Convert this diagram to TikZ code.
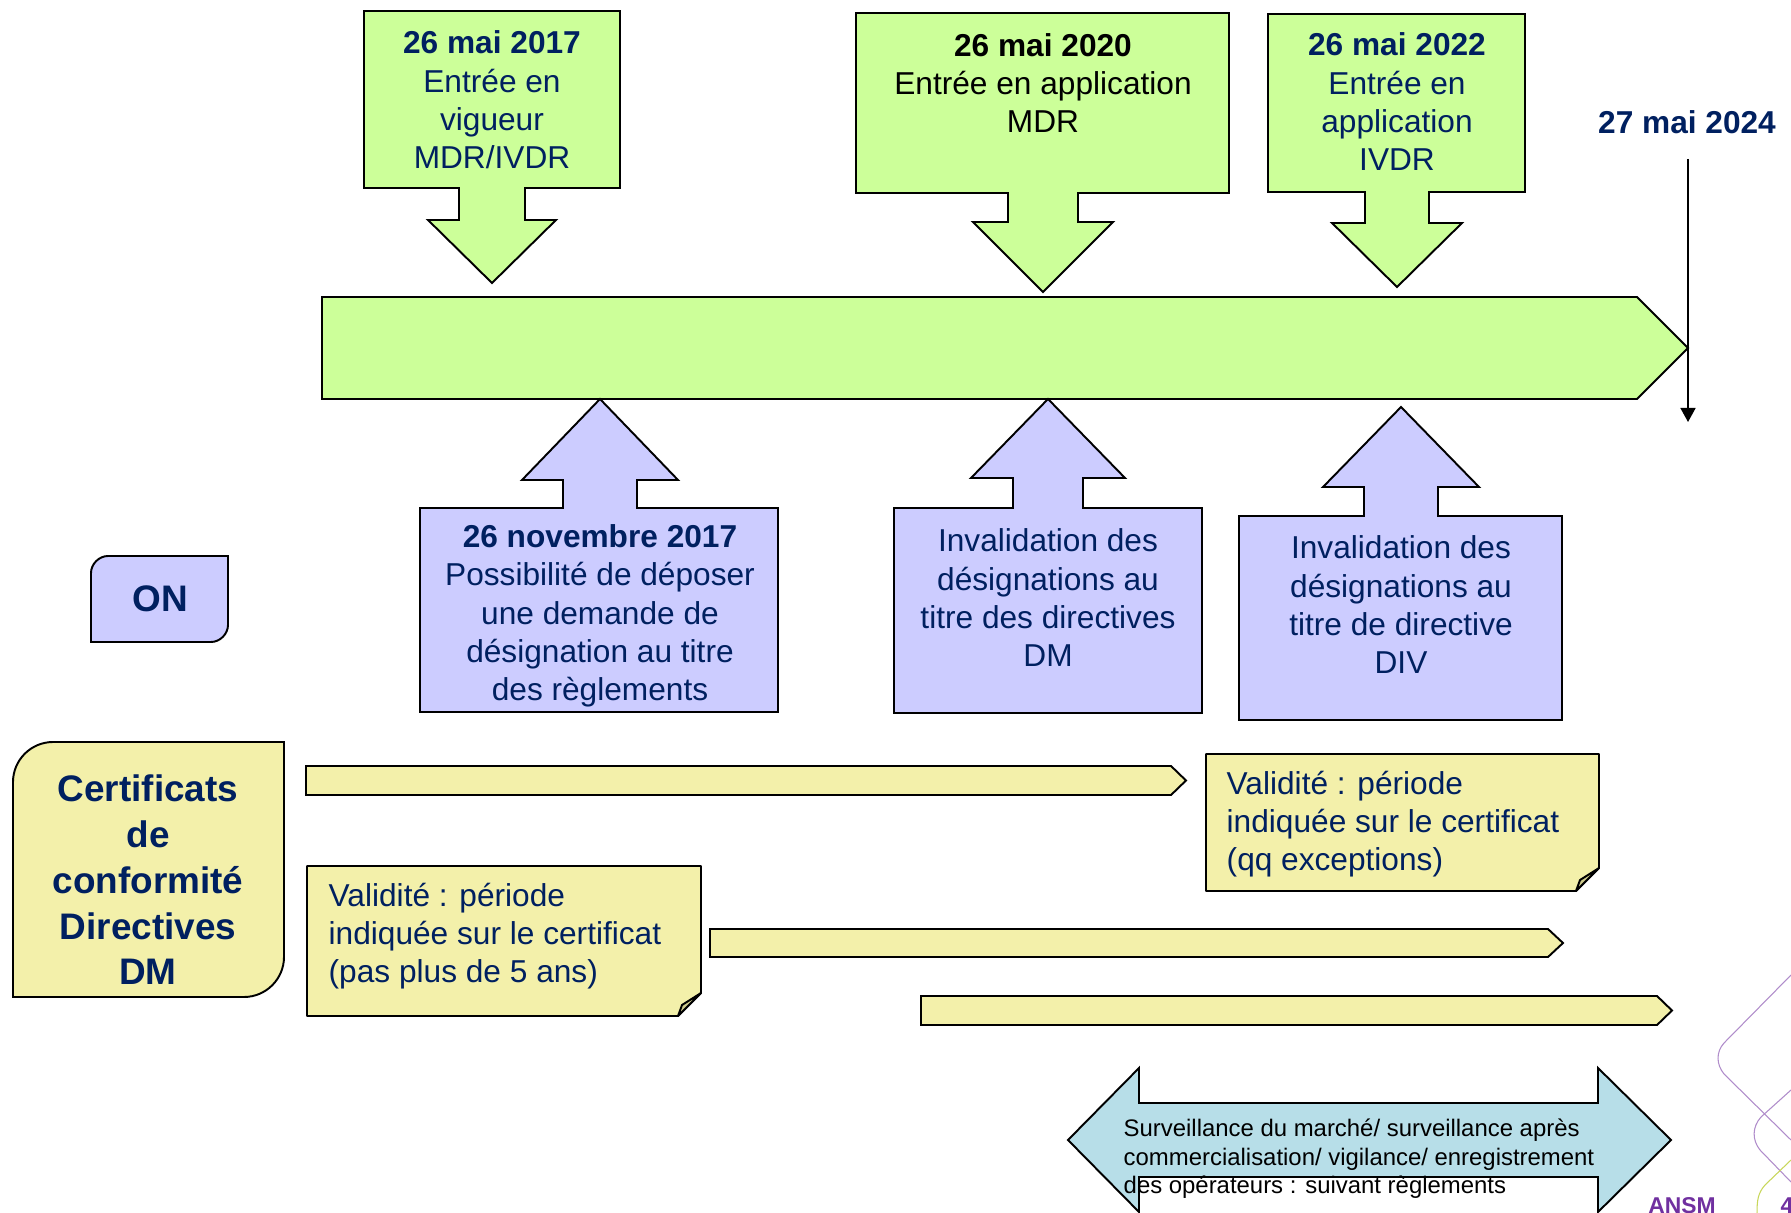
\documentclass[tikz,border=0pt]{standalone}
\usepackage{fontspec}
\setmainfont{Liberation Sans}
\usetikzlibrary{arrows.meta}
\definecolor{navytext}{RGB}{0,32,96}
\definecolor{greenfill}{RGB}{204,255,153}
\definecolor{lilacfill}{RGB}{204,204,255}
\definecolor{paperfill}{RGB}{243,240,170}
\definecolor{foldfill}{RGB}{205,202,140}
\definecolor{aquafill}{RGB}{183,222,232}
\definecolor{ansmpurple}{RGB}{112,48,160}
\definecolor{decogreen}{RGB}{200,215,90}

\begin{document}
\begin{tikzpicture}[x=0.01cm, y=-0.01cm, line join=miter,
  every node/.style={text=navytext, align=center, inner sep=0pt},
  txt/.style={font=\fontsize{9}{10.9}\selectfont},
  datetxt/.style={font=\fontsize{9}{10.9}\selectfont\bfseries},
  bigtxt/.style={font=\fontsize{10.5}{13}\selectfont\bfseries},
  smalltxt/.style={font=\fontsize{6.8}{8.1}\selectfont},
  outline/.style={draw=black, line width=0.55pt},
  deco/.style={line width=0.3pt}]
\useasboundingbox[fill=white] (0,0) rectangle (1791,1213);

\draw[outline, fill=greenfill] (322,297) -- (1637,297) -- (1688,348) -- (1637,399) -- (322,399) -- cycle;

\foreach \xl/\xr/\yt/\yb/\xc/\sw/\hw/\yh/\yp in {364/620/11/188/492/33/64/220/283, 856/1229/13/193/1043/35/70/222/292, 1268/1525/14/192/1397/32/65/223/287}
  \draw[outline, fill=greenfill] (\xl,\yt) -- (\xr,\yt) -- (\xr,\yb) -- (\xc+\sw,\yb) -- (\xc+\sw,\yh) -- (\xc+\hw,\yh) -- (\xc,\yp) -- (\xc-\hw,\yh) -- (\xc-\sw,\yh) -- (\xc-\sw,\yb) -- (\xl,\yb) -- cycle;
\foreach \xl/\xr/\yt/\yb/\xc/\sw/\hw/\yh/\yp in {420/778/712/508/600/37/78/480/399, 894/1202/713/508/1048/35/77/478/399, 1239/1562/720/516/1401/37/78/487/407}
  \draw[outline, fill=lilacfill] (\xl,\yt) -- (\xr,\yt) -- (\xr,\yb) -- (\xc+\sw,\yb) -- (\xc+\sw,\yh) -- (\xc+\hw,\yh) -- (\xc,\yp) -- (\xc-\hw,\yh) -- (\xc-\sw,\yh) -- (\xc-\sw,\yb) -- (\xl,\yb) -- cycle;

\node[txt] (d2017) at (492,100) {\textbf{26 mai 2017}\\Entrée en\\vigueur\\MDR/IVDR};
\node[txt, text=black] (d2020) at (1043,83) {\textbf{26 mai 2020}\\Entrée en application\\MDR};
\node[txt] (d2022) at (1397,102) {\textbf{26 mai 2022}\\Entrée en\\application\\IVDR};
\node[datetxt] (d2024) at (1687,122) {27 mai 2024};
\coordinate (endtop) at (1688,159);
\coordinate (endbot) at (1688,422);
\draw[-{Triangle[width=0.15cm,length=0.14cm]}, line width=0.45pt] (endtop) -- (endbot);

\node[txt] (nov2017) at (600,616) {\textbf{26 novembre 2017}\\Possibilité de déposer\\une demande de\\désignation au titre\\des règlements};
\node[txt] (invdm) at (1048,598) {Invalidation des\\désignations au\\titre des directives\\DM};
\node[txt] (invdiv) at (1401,605) {Invalidation des\\désignations au\\titre de directive\\DIV};

\draw[outline, fill=lilacfill] (91,642) -- (91,573) .. controls (91,564) and (99,556) .. (108,556) -- (228,556) -- (228,625) .. controls (228,634) and (220,642) .. (211,642) -- cycle;
\node[bigtxt] (on) at (160,599) {ON};

\draw[outline, fill=paperfill] (13,997) -- (13,782) .. controls (13,760) and (31,742) .. (53,742) -- (284,742) -- (284,957) .. controls (284,979) and (266,997) .. (244,997) -- cycle;
\node[bigtxt] (certif) at (148,880) {Certificats\\de\\conformité\\Directives\\DM};

\foreach \xl/\xr/\yt/\yb in {306/1186/766/795, 710/1563/929/957, 921/1672/996/1025}
  \draw[outline, fill=paperfill] (\xl,\yt) -- (\xr-15,\yt) -- (\xr,{(\yt+\yb)/2}) -- (\xr-15,\yb) -- (\xl,\yb) -- cycle;

\foreach \xl/\xr/\yt/\yb in {1206/1599/754/891, 307/701/866/1016} {
  \draw[outline, line join=bevel, fill=paperfill] (\xl,\yt) -- (\xr,\yt) -- (\xr,\yb-23) -- (\xr-23,\yb) -- (\xl,\yb) -- cycle;
  \draw[outline, line join=round, fill=foldfill] (\xr,\yb-23) -- (\xr-19,\yb-11) -- (\xr-23,\yb) -- cycle;
}
\node[txt, anchor=west, align=left] (valid1) at (1226,824) {Validité : période\\indiquée sur le certificat\\(qq exceptions)};
\node[txt, anchor=west, align=left] (valid2) at (328,936) {Validité : période\\indiquée sur le certificat\\(pas plus de 5 ans)};

\draw[outline, fill=aquafill] (1068,1140) -- (1139,1068) -- (1139,1103) -- (1598,1103) -- (1598,1068) -- (1671,1140) -- (1598,1212) -- (1598,1177) -- (1139,1177) -- (1139,1212) -- cycle;
\node[smalltxt, text=black, anchor=west, align=left] (surv) at (1123,1159) {Surveillance du marché/ surveillance après\\commercialisation/ vigilance/ enregistrement\\des opérateurs : suivant règlements};

\draw[deco, ansmpurple!55] (1791,975) -- (1724,1043) .. controls (1716,1052) and (1716,1064) .. (1724,1074) -- (1791,1140);
\draw[deco, ansmpurple!55] (1791,1090) -- (1761,1117) .. controls (1752,1127) and (1752,1140) .. (1760,1150) -- (1791,1182);
\draw[deco, decogreen] (1791,1160) -- (1765,1185) .. controls (1758,1193) and (1757,1200) .. (1757,1213);
\node[font=\fontsize{6.5}{8}\selectfont\bfseries, text=ansmpurple, anchor=base] (ansm) at (1682,1213) {ANSM};
\node[font=\fontsize{6.5}{8}\selectfont\bfseries, text=ansmpurple, anchor=base west] (pagenum) at (1780,1213) {4};
\end{tikzpicture}
\end{document}
